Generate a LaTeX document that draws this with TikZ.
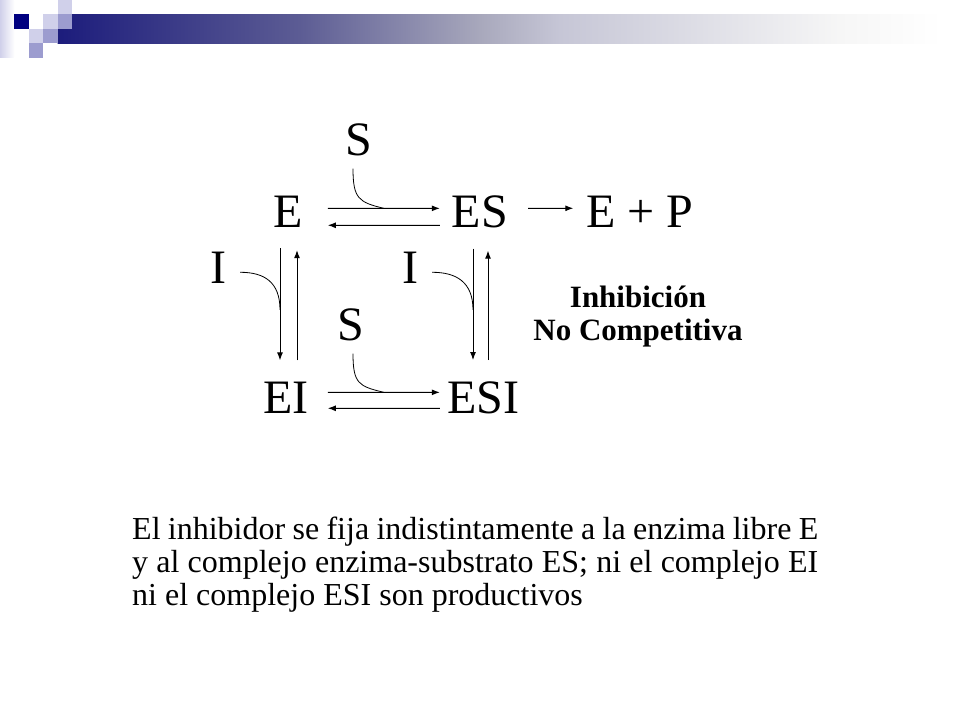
\documentclass[tikz,border=0pt]{standalone}
\usepackage{fontspec}
\setmainfont{Liberation Serif}
\usetikzlibrary{arrows.meta, calc}

\definecolor{hdnavy}{RGB}{0,0,128}
\definecolor{hdlight}{RGB}{208,208,234}
\definecolor{hdmid}{RGB}{156,156,207}
\definecolor{bardark}{RGB}{28,28,124}
\definecolor{barmid}{RGB}{92,92,148}
\definecolor{barlight}{RGB}{168,168,188}
\definecolor{barpale}{RGB}{198,198,214}
\definecolor{barfade}{RGB}{246,246,246}
\pgfdeclarehorizontalshading{barshade}{100bp}{color(0bp)=(bardark); color(25bp)=(bardark);
  color(38.4bp)=(barmid); color(48.4bp)=(barlight); color(52.8bp)=(barpale);
  color(68.3bp)=(barfade); color(74bp)=(white); color(100bp)=(white)}

\begin{document}
\begin{tikzpicture}[x=1bp, y=-1bp,
    spec/.style={inner sep=0pt, anchor=base, font=\fontsize{48bp}{52bp}\selectfont},
    rxn/.style={-{Latex[length=8bp, width=6bp]}, line width=1bp},
    hook/.style={line width=0.8bp}]
  \useasboundingbox (0,0) rectangle (960,720);

  % slide header: squares and shaded bar
  \shade[left color=hdlight, right color=white] (0,0) rectangle (14.4,57.6);
  \shade[shading=barshade] (57.6,14.4) rectangle (960,43.2);
  \fill[hdnavy] (14.4,14.4) rectangle (28.8,28.8);
  \fill[hdlight] (43.2,14.4) rectangle (57.6,28.8);
  \fill[hdlight] (57.6,0) rectangle (72,14.4);
  \fill[hdlight] (28.8,28.8) rectangle (43.2,43.2);
  \fill[hdmid] (57.6,14.4) rectangle (72,28.8);
  \fill[hdmid] (43.2,28.8) rectangle (57.6,43.2);
  \fill[hdmid] (28.8,43.2) rectangle (43.2,57.6);

  % species of the scheme
  \node[spec] (S1) at (359,156) {S};
  \node[spec] (E) at (288,227) {E};
  \node[spec] (ES) at (480,227) {ES};
  \node[spec] (EP) at (640,227) {E + P};
  \node[spec] (I1) at (218,283) {I};
  \node[spec] (I2) at (410,283) {I};
  \node[spec] (S2) at (351,340) {S};
  \node[spec] (EI) at (286,413) {EI};
  \node[spec] (ESI) at (483,413) {ESI};

  % E <-> ES -> E + P
  \draw[rxn] ([shift={(25,-3)}]E.east) -- coordinate[pos=0.5] (kS1) ([shift={(-12,-3)}]ES.west);
  \draw[rxn] ([shift={(-12,14)}]ES.west) -- ([shift={(25,14)}]E.east);
  \draw[rxn] ([shift={(20,-3)}]ES.east) -- ([shift={(-13,-3)}]EP.west);
  \draw[hook] ([shift={(-6,12)}]S1.south) .. controls +(0,30) and +(-25,-6) .. (kS1);

  % E <-> EI
  \draw[rxn] ([shift={(-8,21)}]E.south) -- coordinate[pos=0.55] (kI1) ([shift={(-6,-21)}]EI.north);
  \draw[rxn] ([shift={(11,-21)}]EI.north) -- ([shift={(9,23)}]E.south);
  \draw[hook] ([shift={(14,5)}]I1.east) .. controls +(24,0) and +(0,-28) .. (kI1);

  % ES <-> ESI
  \draw[rxn] ([shift={(-7,21)}]ES.south) -- coordinate[pos=0.55] (kI2) ([shift={(-10,-21)}]ESI.north);
  \draw[rxn] ([shift={(5,-21)}]ESI.north) -- ([shift={(8,23)}]ES.south);
  \draw[hook] ([shift={(14,5)}]I2.east) .. controls +(24,0) and +(0,-28) .. (kI2);

  % EI <-> ESI
  \draw[rxn] ([shift={(19,-5)}]EI.east) -- coordinate[pos=0.5] (kS2) ([shift={(-7,-5)}]ESI.west);
  \draw[rxn] ([shift={(-7,11)}]ESI.west) -- ([shift={(19,11)}]EI.east);
  \draw[hook] ([shift={(2,13)}]S2.south) .. controls +(0,30) and +(-25,-6) .. (kS2);

  % labels (base = last line)
  \node[inner sep=0pt, anchor=base, align=center,
        font=\bfseries\fontsize{31bp}{33bp}\selectfont] (kind) at (638,340)
        {Inhibición\\No Competitiva};
  \node[inner sep=0pt, anchor=base west, align=left,
        font=\fontsize{32bp}{33bp}\selectfont] (note) at (132,605)
        {\makebox[686bp][s]{El inhibidor se fija indistintamente a la enzima libre E}\\
         \makebox[686bp][s]{y al complejo enzima-substrato ES; ni el complejo EI}\\
         ni el complejo ESI son productivos};
\end{tikzpicture}
\end{document}
